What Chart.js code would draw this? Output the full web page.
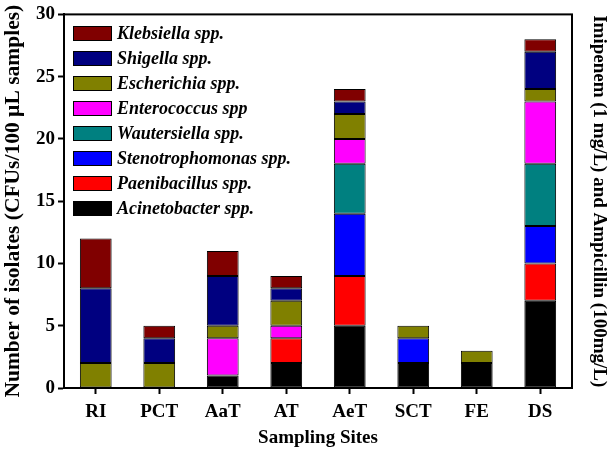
<!DOCTYPE html>
<html>
<head>
<meta charset="utf-8">
<script src="https://cdn.jsdelivr.net/npm/chart.js@4"></script>
<style>
  html, body { margin: 0; padding: 0; background: #fff; }
  #wrap { width: 608px; height: 453px; }
</style>
</head>
<body>
<div id="wrap"><canvas id="barGrafico"></canvas></div>
<script>
// Dados
const sites = ['RI', 'PCT', 'AaT', 'AT', 'AeT', 'SCT', 'FE', 'DS'];
const acinetobacter    = [0, 0, 1, 2, 5, 2, 2, 7];
const paenibacillus    = [0, 0, 0, 2, 4, 0, 0, 3];
const stenotrophomonas = [0, 0, 0, 0, 5, 2, 0, 3];
const wautersiella     = [0, 0, 0, 0, 4, 0, 0, 5];
const enterococcus     = [0, 0, 3, 1, 2, 0, 0, 5];
const escherichia      = [2, 2, 1, 2, 2, 1, 1, 1];
const shigella         = [6, 2, 4, 1, 1, 0, 0, 3];
const klebsiella       = [4, 1, 2, 1, 1, 0, 0, 1];
const yTicks = [0, 5, 10, 15, 20, 25, 30];

const serif = '"Liberation Serif", "DejaVu Serif", serif';

function serie(label, data, color) {
  return {
    label: label,
    data: data,
    backgroundColor: color,
    borderColor: '#000',
    borderWidth: 1,
    borderSkipped: false,
    barPercentage: 0.5,
    categoryPercentage: 1
  };
}

// legenda dentro da área do gráfico
const legendaInterna = {
  id: 'legendaInterna',
  afterDraw(chart) {
    const ctx = chart.ctx;
    const ds = chart.data.datasets.slice().reverse();
    ctx.save();
    ctx.font = 'italic bold 18px ' + serif;
    ctx.textBaseline = 'middle';
    ds.forEach((d, i) => {
      const y = 26 + i * 25;
      ctx.fillStyle = d.backgroundColor;
      ctx.fillRect(73, y, 39, 15);
      ctx.strokeStyle = '#000';
      ctx.lineWidth = 1;
      ctx.strokeRect(73.5, y + 0.5, 38, 14);
      ctx.fillStyle = '#000';
      ctx.fillText(d.label, 117, y + 8);
    });
    ctx.restore();
  }
};

// moldura
const moldura = {
  id: 'moldura',
  afterDatasetsDraw(chart) {
    const a = chart.chartArea;
    const ctx = chart.ctx;
    ctx.save();
    ctx.strokeStyle = '#000';
    ctx.lineWidth = 2;
    ctx.strokeRect(a.left, a.top, a.right - a.left, a.bottom - a.top);
    ctx.restore();
  }
};

let barGrafico = document.getElementById('barGrafico');
const config = {
  type: 'bar',
  data: {
    labels: sites,
    datasets: [
      serie('Acinetobacter spp.', acinetobacter, '#000000'),
      serie('Paenibacillus spp.', paenibacillus, '#ff0000'),
      serie('Stenotrophomonas spp.', stenotrophomonas, '#0000ff'),
      serie('Wautersiella spp.', wautersiella, '#008080'),
      serie('Enterococcus spp', enterococcus, '#ff00ff'),
      serie('Escherichia spp.', escherichia, '#808000'),
      serie('Shigella spp.', shigella, '#000080'),
      serie('Klebsiella spp.', klebsiella, '#800000')
    ]
  },
  options: {
    responsive: true,
    maintainAspectRatio: false,
    animation: false,
    layout: { padding: { top: 12, right: 0, left: 0, bottom: 0 } },
    plugins: {
      legend: { display: false },
      tooltip: { enabled: false }
    },
    scales: {
      x: {
        stacked: true,
        afterFit(scale) { scale.height = 65; },
        grid: { display: true, drawOnChartArea: false, offset: false, tickLength: 6, tickWidth: 2, tickColor: '#000' },
        border: { display: true, color: '#000', width: 2 },
        ticks: { color: '#000', font: { family: serif, size: 19, weight: 'bold' }, padding: 7 },
        title: { display: true, text: 'Sampling Sites', color: '#000', font: { family: serif, size: 19, weight: 'bold' }, padding: { top: 2, bottom: 4 } }
      },
      y: {
        stacked: true,
        min: 0,
        max: 30,
        afterBuildTicks(scale) { scale.ticks = yTicks.map(v => ({ value: v })); },
        afterFit(scale) { scale.width = 64; },
        grid: { display: true, drawOnChartArea: false, tickLength: 6, tickWidth: 2, tickColor: '#000' },
        border: { display: true, color: '#000', width: 2 },
        ticks: { color: '#000', font: { family: serif, size: 19, weight: 'bold' }, padding: 3 },
        title: { display: true, text: 'Number of isolates (CFUs/100 µL samples)', color: '#000', font: { family: serif, size: 21.5, weight: 'bold', lineHeight: 1 }, padding: { top: 3, bottom: 0 } }
      },
      y2: {
        position: 'right',
        min: 0,
        max: 30,
        afterFit(scale) { scale.width = 36; },
        grid: { display: false },
        border: { display: false },
        ticks: { display: false },
        title: { display: true, text: 'Imipenem (1 mg/L) and Ampicillin (100mg/L)', color: '#000', font: { family: serif, size: 19, weight: 'bold', lineHeight: 1 }, padding: { top: 0, bottom: 0 } }
      }
    }
  },
  plugins: [moldura, legendaInterna]
};

let myGraph = new Chart(barGrafico, config);
</script>
</body>
</html>
